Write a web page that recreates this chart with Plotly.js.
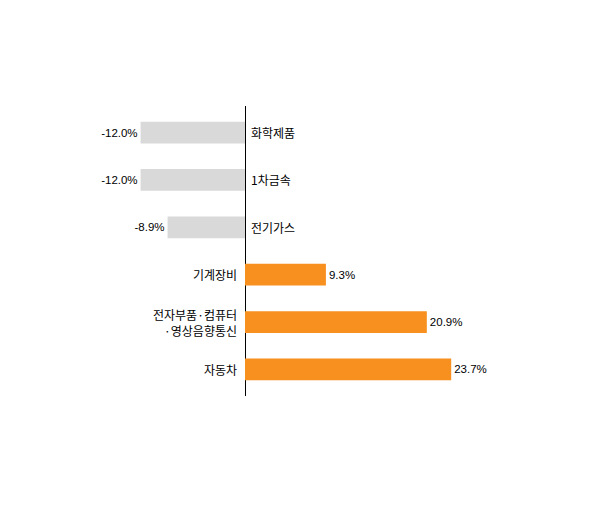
<!DOCTYPE html>
<html>
<head>
<meta charset="utf-8">
<script src="https://cdn.plot.ly/plotly-3.0.1.min.js"></script>
<style>
  body { margin: 0; background: #fff; }
  #chart { width: 600px; height: 513px; }
</style>
</head>
<body>
<div id="chart"></div>
<script>
// 산업별 증감률 (%)
var categories = ['화학제품', '1차금속', '전기가스', '기계장비', '전자부품·컴퓨터<br>·영상음향통신', '자동차'];
var values = [-12.0, -12.0, -8.9, 9.3, 20.9, 23.7];

var barColors = values.map(function (v) { return v < 0 ? '#d9d9d9' : '#f7901e'; });
var labels = values.map(function (v) { return v.toFixed(1) + '%'; });

var data = [{
  type: 'bar',
  orientation: 'h',
  x: values,
  y: categories,
  marker: { color: barColors, line: { width: 0 } },
  text: labels,
  textposition: 'outside',
  cliponaxis: false,
  textfont: { family: 'Liberation Sans, Arial, sans-serif', size: 11.5, color: '#000' },
  hoverinfo: 'none'
}];

// category names sit on the opposite side of the zero line from the bar
var annotations = categories.map(function (c, i) {
  var neg = values[i] < 0;
  return {
    x: 0, y: c, xref: 'x', yref: 'y',
    text: c,
    showarrow: false,
    xanchor: neg ? 'left' : 'right',
    xshift: neg ? 4 : -6,
    align: 'right',
    font: { family: 'Noto Sans CJK KR, sans-serif', size: 12, color: '#000' }
  };
});

var layout = {
  width: 600,
  height: 513,
  margin: { l: 71, r: 94, t: 106, b: 117 },
  paper_bgcolor: '#fff',
  plot_bgcolor: '#fff',
  showlegend: false,
  bargap: 0.54,
  xaxis: {
    range: [-20, 30],
    showgrid: false,
    showticklabels: false,
    ticks: '',
    zeroline: true,
    zerolinecolor: '#000',
    zerolinewidth: 1,
    showline: false
  },
  yaxis: {
    type: 'category',
    range: [5.56, -0.56],
    showgrid: false,
    showticklabels: false,
    ticks: '',
    showline: false,
    zeroline: false
  },
  annotations: annotations
};

Plotly.newPlot('chart', data, layout, { staticPlot: true });
</script>
</body>
</html>
